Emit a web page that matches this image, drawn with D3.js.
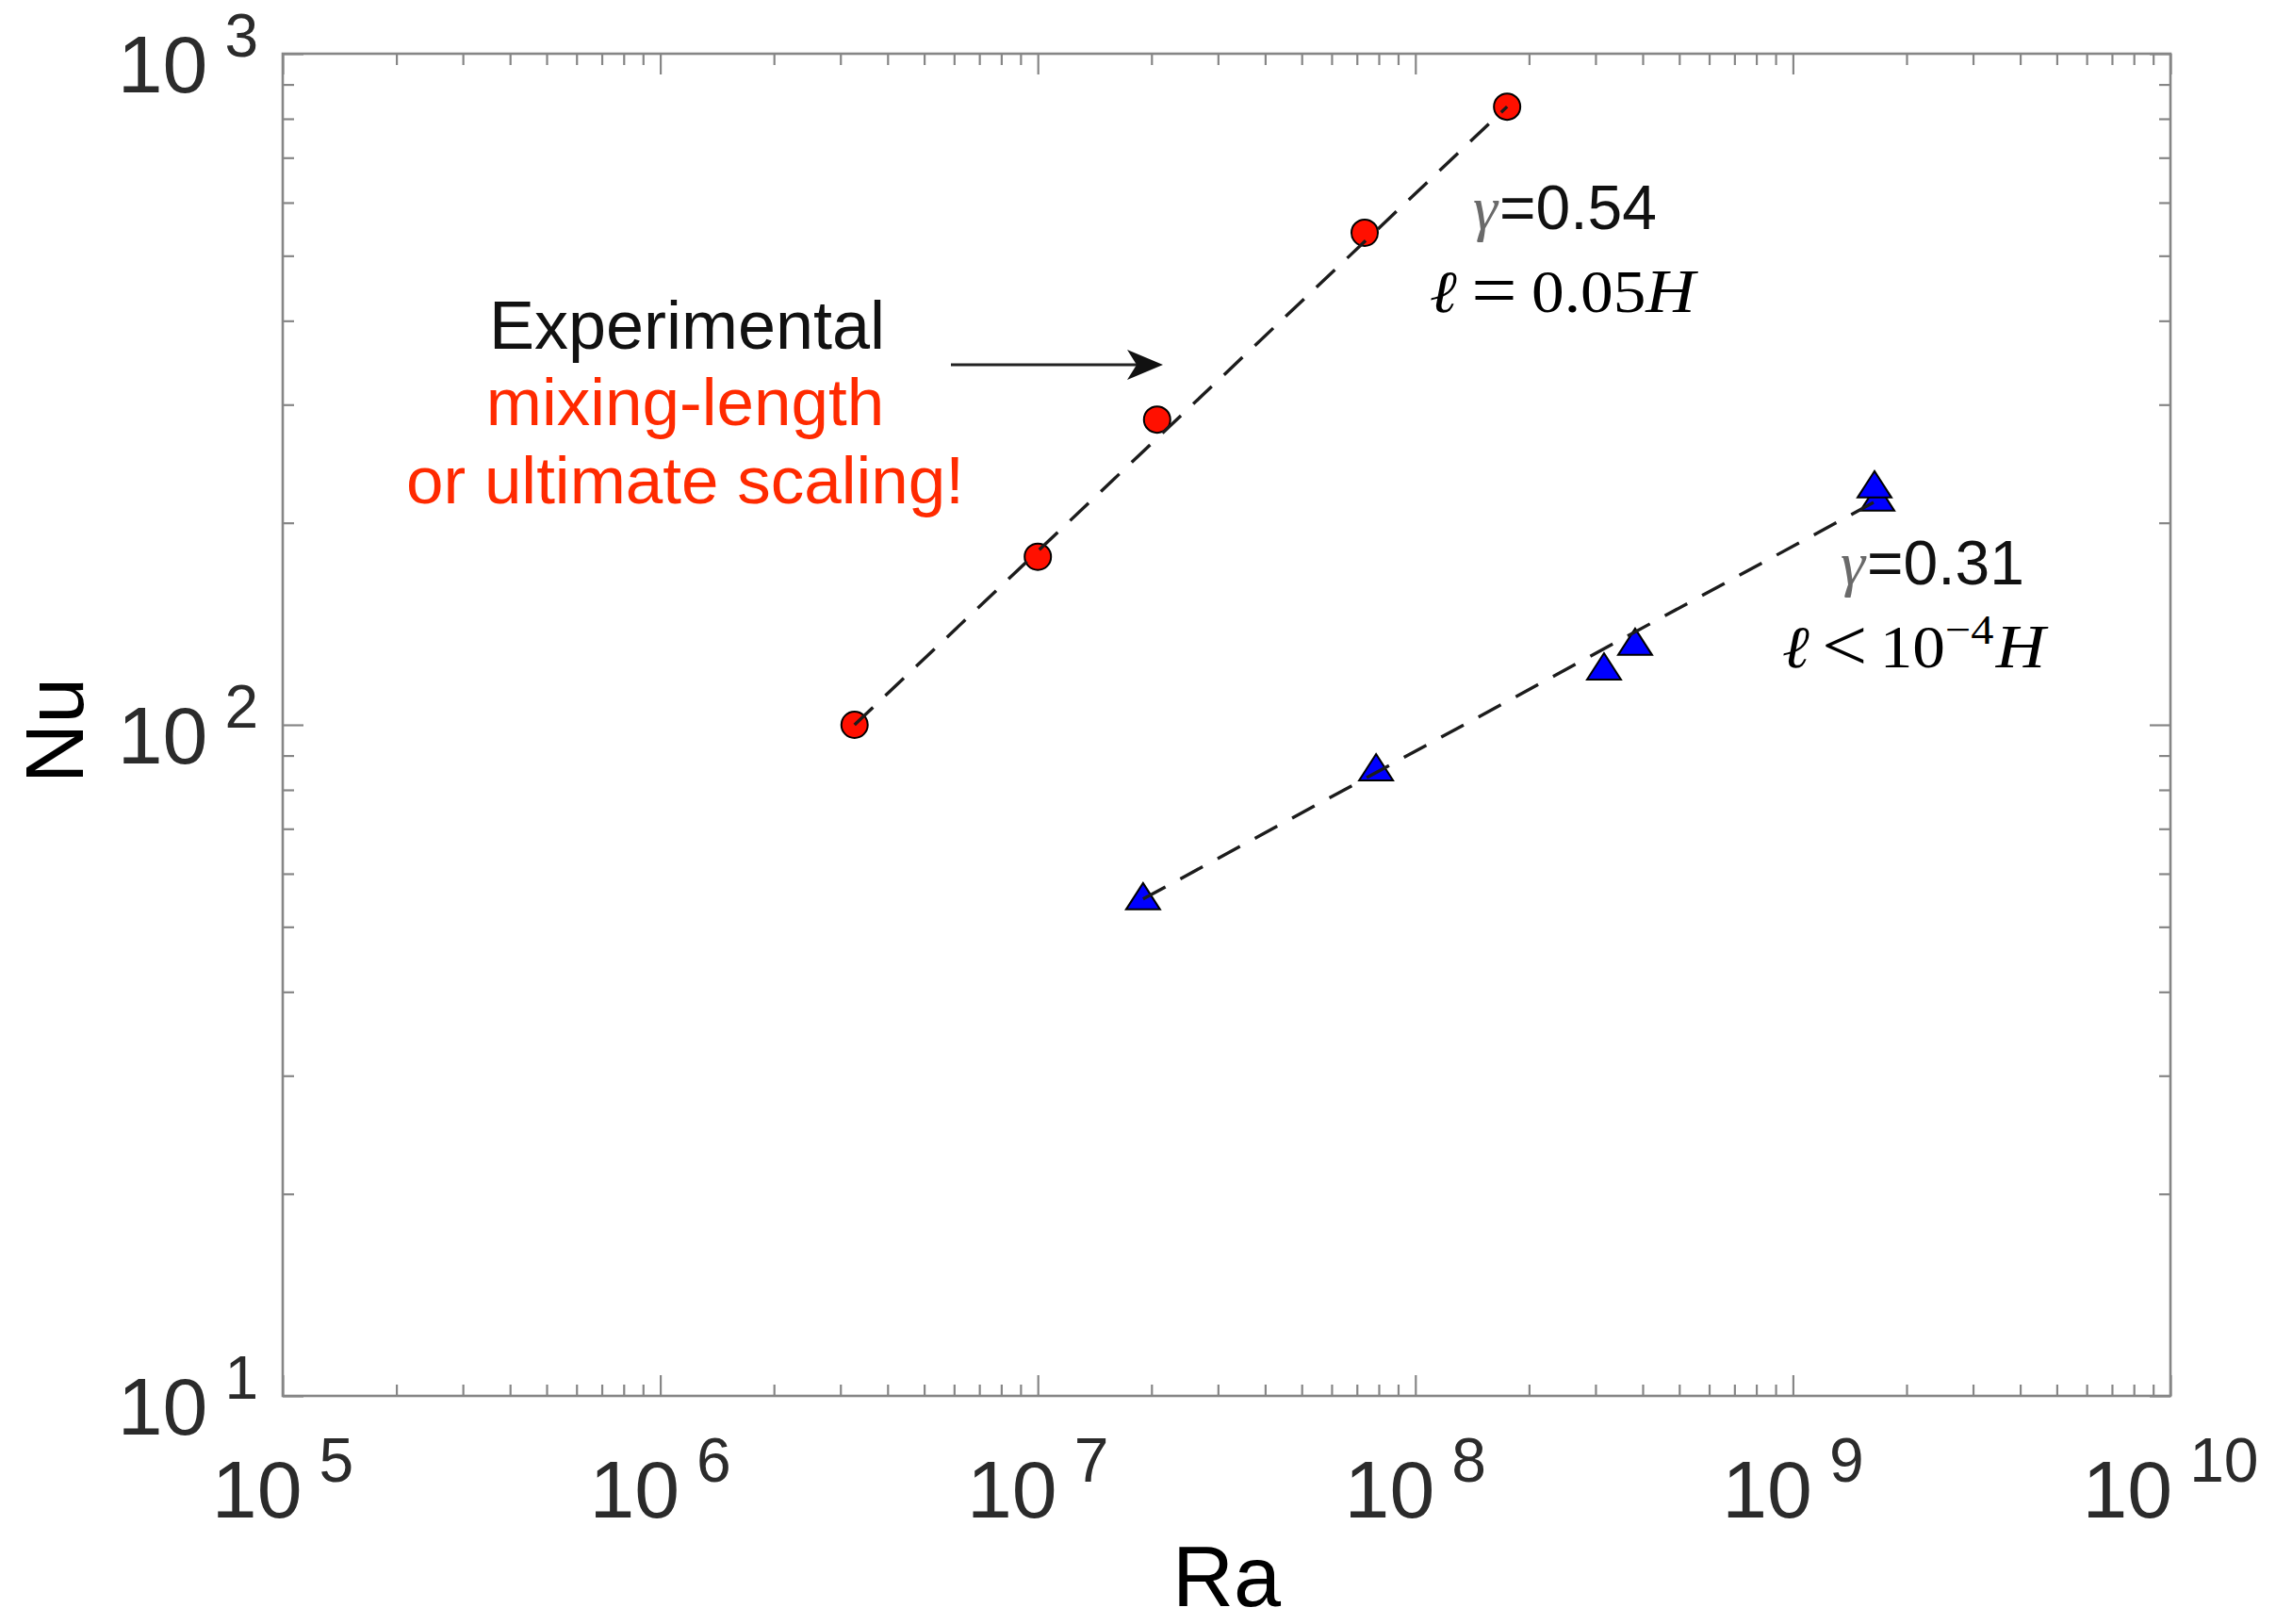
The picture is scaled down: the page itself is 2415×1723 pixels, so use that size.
<!DOCTYPE html>
<html><head><meta charset="utf-8">
<script src="https://cdn.jsdelivr.net/npm/d3@7"></script>
<style>body{margin:0;background:#fff}svg{display:block}</style>
</head><body>
<svg id="c" width="2415" height="1723"></svg>
<script>
// ---- data ----
const redRa  = [3.27e6, 1.0e7, 2.07e7, 7.34e7, 1.75e8];
const redNu  = [100, 178, 285, 541, 834];
const blueRa = [1.90e7, 7.87e7, 3.16e8, 3.82e8, 1.674e9, 1.645e9];
const blueNu = [55.0, 85.6, 121.0, 131.7, 216, 226];
const redFitRa  = [3.27e6, 1.75e8];
const redFitNu  = [100, 834];
const blueFitRa = [1.90e7, 1.674e9];
const blueFitNu = [55.0, 216];
const xMajor = [1e5, 1e6, 1e7, 1e8, 1e9, 1e10];
const xExp   = ["5", "6", "7", "8", "9", "10"];
const yMajor = [10, 100, 1000];
const yExp   = ["1", "2", "3"];

// ---- layout ----
const L = 300, R = 2303, T = 57, B = 1481;
const svg = d3.select("#c");
const x = d3.scaleLog().domain([1e5, 1e10]).range([L, R]);
const y = d3.scaleLog().domain([10, 1000]).range([B, T]);

const minorsOf = (lo, hi) => { const m = []; for (let d = lo; d < hi; d *= 10) for (let k = 2; k <= 9; k++) m.push(k * d); return m; };
const xMinor = minorsOf(1e5, 1e10);
const yMinor = minorsOf(10, 1000);

const axisColor = "#868686";
function styleAxis(g) {
  g.select(".domain").remove();
  g.selectAll(".tick line").attr("stroke", axisColor).attr("stroke-width", 2.2);
  g.selectAll(".tick text").remove();
}
const axes = [
  [d3.axisBottom, x, `translate(0,${B})`],
  [d3.axisTop, x, `translate(0,${T})`],
  [d3.axisLeft, y, `translate(${L},0)`],
  [d3.axisRight, y, `translate(${R},0)`]
];
axes.forEach(([fn, sc, tr]) => {
  const isX = sc === x;
  svg.append("g").attr("transform", tr)
    .call(fn(sc).tickValues(isX ? xMajor : yMajor).tickSizeInner(-22).tickSizeOuter(0).tickFormat(""))
    .call(styleAxis);
  svg.append("g").attr("transform", tr)
    .call(fn(sc).tickValues(isX ? xMinor : yMinor).tickSizeInner(-12).tickSizeOuter(0).tickFormat(""))
    .call(styleAxis);
});
svg.append("rect").attr("x", L).attr("y", T).attr("width", R - L).attr("height", B - T)
  .attr("fill", "none").attr("stroke", axisColor).attr("stroke-width", 2.6);

// tick labels
const tickFont = "'Liberation Sans', Arial, Helvetica, sans-serif";
xMajor.forEach((v, i) => {
  const t = svg.append("text").attr("x", x(v)).attr("y", B + 129)
    .attr("text-anchor", "middle").attr("font-family", tickFont).attr("fill", "#2b2b2b")
    .attr("font-size", 86);
  t.append("tspan").text("10");
  t.append("tspan").attr("dx", 18).attr("dy", -38).attr("font-size", 66).text(xExp[i]);
});
yMajor.forEach((v, i) => {
  const t = svg.append("text").attr("x", 274).attr("y", y(v) + 41)
    .attr("text-anchor", "end").attr("font-family", tickFont).attr("fill", "#2b2b2b")
    .attr("font-size", 86);
  t.append("tspan").text("10");
  t.append("tspan").attr("dx", 18).attr("dy", -38).attr("font-size", 64).text(yExp[i]);
});

// axis titles
svg.append("text").attr("x", (L + R) / 2).attr("y", 1704).attr("text-anchor", "middle")
  .attr("font-family", tickFont).attr("font-size", 90).attr("fill", "#000").text("Ra");
svg.append("text").attr("transform", `translate(88,${(T + B) / 2 + 6}) rotate(-90)`).attr("text-anchor", "middle")
  .attr("font-family", tickFont).attr("font-size", 88).attr("fill", "#000").text("Nu");

// markers
const red = redRa.map((r, i) => [r, redNu[i]]);
const blue = blueRa.map((r, i) => [r, blueNu[i]]);
svg.append("g").selectAll("circle").data(red).join("circle")
  .attr("cx", d => x(d[0])).attr("cy", d => y(d[1])).attr("r", 14)
  .attr("fill", "#ff1000").attr("stroke", "#000").attr("stroke-width", 2);
svg.append("g").selectAll("path").data(blue).join("path")
  .attr("transform", d => `translate(${x(d[0])},${y(d[1])})`)
  .attr("d", "M0,-17L18,11L-18,11Z")
  .attr("fill", "#0000ff").attr("stroke", "#000").attr("stroke-width", 2).attr("stroke-linejoin", "miter");

// fit lines
const line = d3.line().x(d => x(d[0])).y(d => y(d[1]));
[[redFitRa, redFitNu], [blueFitRa, blueFitNu]].forEach(([ra, nu]) => {
  svg.append("path").attr("d", line(ra.map((r, i) => [r, nu[i]])))
    .attr("fill", "none").attr("stroke", "#1c1c1c").attr("stroke-width", 3.4)
    .attr("stroke-dasharray", "27 18");
});

// annotations
const annFont = "'Liberation Sans', Helvetica, Arial, sans-serif";
svg.append("text").attr("x", 729).attr("y", 370).attr("text-anchor", "middle")
  .attr("font-family", annFont).attr("font-size", 72).attr("fill", "#111").text("Experimental");
svg.append("text").attr("x", 727).attr("y", 451).attr("text-anchor", "middle")
  .attr("font-family", annFont).attr("font-size", 71).attr("fill", "#ff2a00").text("mixing-length");
svg.append("text").attr("x", 727).attr("y", 534).attr("text-anchor", "middle")
  .attr("font-family", annFont).attr("font-size", 71).attr("fill", "#ff2a00").text("or ultimate scaling!");
// arrow
svg.append("line").attr("x1", 1009).attr("y1", 387).attr("x2", 1215).attr("y2", 387)
  .attr("stroke", "#222").attr("stroke-width", 3);
svg.append("path").attr("d", "M1234,387L1196,371L1206,387L1196,403Z").attr("fill", "#111");

const serif = "'Liberation Serif', 'DejaVu Serif', serif";
function gammaLabel(xp, yp, val) {
  const t = svg.append("text").attr("x", xp).attr("y", yp).attr("font-size", 66);
  t.append("tspan").attr("font-family", serif).attr("font-style", "italic").attr("fill", "#6a6a6a").text("γ");
  t.append("tspan").attr("font-family", annFont).attr("fill", "#111").attr("dx", 2).text("=" + val);
}
gammaLabel(1563, 243, "0.54");
gammaLabel(1953, 620, "0.31");

// math labels (Computer-Modern-like: slightly widened serif)
function mathText(xp, yp) {
  return svg.append("g").attr("transform", `translate(${xp},${yp}) scale(1.1,1)`)
    .append("text").attr("x", 0).attr("y", 0).attr("font-family", serif)
    .attr("font-size", 63).attr("fill", "#000");
}
const l1 = mathText(1517, 331);
l1.append("tspan").attr("font-style", "italic").text("ℓ");
l1.append("tspan").attr("dx", 14).attr("dy", 3).attr("font-size", 78).text("=");
l1.append("tspan").attr("dx", 14).attr("dy", -3).text("0.05");
l1.append("tspan").attr("font-style", "italic").attr("font-size", 66).text("H");

const l2 = mathText(1891, 708);
l2.append("tspan").attr("font-style", "italic").text("ℓ");
l2.append("tspan").attr("dx", 12).attr("dy", 3).attr("font-size", 78).text("<");
l2.append("tspan").attr("dx", 12).attr("dy", -3).text("10");
l2.append("tspan").attr("dy", -25).attr("font-size", 44).text("−4");
l2.append("tspan").attr("dy", 25).attr("dx", 2).attr("font-style", "italic").attr("font-size", 66).text("H");
</script>
</body></html>
